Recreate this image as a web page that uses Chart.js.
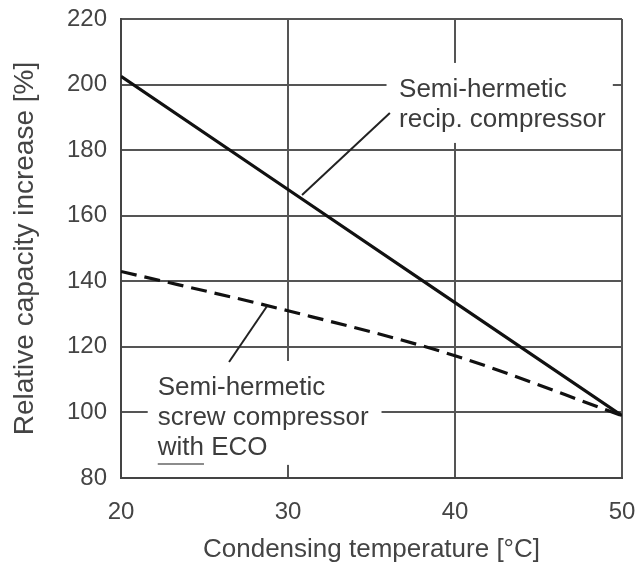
<!DOCTYPE html>
<html>
<head>
<meta charset="utf-8">
<script src="https://cdn.jsdelivr.net/npm/chart.js@4.4.1/dist/chart.umd.min.js"></script>
<style>
  html, body { margin: 0; padding: 0; background: #fff; }
  #wrap { width: 637px; height: 563px; }
</style>
</head>
<body>
<div id="wrap"><canvas id="capChart"></canvas></div>
<script>
// condensing temperature [°C]
var temps = [20, 30, 40, 50];
// relative capacity increase [%]
var recipValues = [202.5, 168, 133.5, 99];
var screwValues = [143, 131, 117.3, 99];
var xTicks = [20, 30, 40, 50];
var yTicks = [80, 100, 120, 140, 160, 180, 200, 220];

var noteRecip = ["Semi-hermetic", "recip. compressor"];
var noteScrew = ["Semi-hermetic", "screw compressor", "with ECO"];

function toPoints(vals) {
  return temps.map(function (t, i) {
    return { x: t, y: vals[i] };
  });
}

// label boxes, text and leader lines, placed in data units
var notesPlugin = {
  id: "notes",
  beforeDatasetsDraw: function (chart) {
    var ctx = chart.ctx;
    var x = chart.scales.x;
    var y = chart.scales.y;
    ctx.save();
    ctx.fillStyle = "#fff";
    [
      [35.9, 49.45, 206.6, 182.2],
      [21.6, 35.6, 115.7, 84.0],
    ].forEach(function (b) {
      var x0 = x.getPixelForValue(b[0]);
      var x1 = x.getPixelForValue(b[1]);
      var y0 = y.getPixelForValue(b[2]);
      var y1 = y.getPixelForValue(b[3]);
      ctx.fillRect(x0, y0, x1 - x0, y1 - y0);
    });
    ctx.restore();
  },
  afterDatasetsDraw: function (chart) {
    var ctx = chart.ctx;
    var x = chart.scales.x;
    var y = chart.scales.y;
    ctx.save();

    // leader lines
    ctx.strokeStyle = "#222";
    ctx.lineWidth = 2;
    [
      [36.1, 191.3, 30.84, 166.3],
      [26.47, 115.4, 28.74, 132.4],
    ].forEach(function (l) {
      ctx.beginPath();
      ctx.moveTo(x.getPixelForValue(l[0]), y.getPixelForValue(l[1]));
      ctx.lineTo(x.getPixelForValue(l[2]), y.getPixelForValue(l[3]));
      ctx.stroke();
    });

    // text
    ctx.fillStyle = "#3c3c3c";
    ctx.font = "26px 'Liberation Sans', Arial, sans-serif";
    ctx.textAlign = "left";
    ctx.textBaseline = "alphabetic";
    var lineGap = 30;

    var ax = x.getPixelForValue(36.65);
    var ay = y.getPixelForValue(196.2);
    noteRecip.forEach(function (s, i) {
      ctx.fillText(s, ax, ay + i * lineGap);
    });

    var bx = x.getPixelForValue(22.2);
    var by = y.getPixelForValue(105.3);
    noteScrew.forEach(function (s, i) {
      ctx.fillText(s, bx, by + i * lineGap);
    });

    // underline under "with"
    var w = ctx.measureText("with").width;
    var uy = by + 2 * lineGap + 9;
    ctx.strokeStyle = "#666";
    ctx.lineWidth = 1.5;
    ctx.beginPath();
    ctx.moveTo(bx, uy);
    ctx.lineTo(bx + w, uy);
    ctx.stroke();

    ctx.restore();
  },
};

var tickFont = { family: "'Liberation Sans', Arial, sans-serif", size: 24 };

new Chart(document.getElementById("capChart"), {
  type: "line",
  data: {
    datasets: [
      {
        label: "Semi-hermetic recip. compressor",
        data: toPoints(recipValues),
        borderColor: "#111",
        borderWidth: 3.2,
        pointRadius: 0,
        fill: false,
      },
      {
        label: "Semi-hermetic screw compressor with ECO",
        data: toPoints(screwValues),
        borderColor: "#111",
        borderWidth: 3.2,
        borderDash: [16, 8],
        pointRadius: 0,
        cubicInterpolationMode: "monotone",
        fill: false,
      },
    ],
  },
  options: {
    responsive: true,
    maintainAspectRatio: false,
    animation: false,
    layout: {
      padding: { top: 19, right: 15, left: 0, bottom: 0 },
    },
    plugins: {
      legend: { display: false },
      tooltip: { enabled: false },
    },
    scales: {
      x: {
        type: "linear",
        min: 20,
        max: 50,
        afterBuildTicks: function (scale) {
          scale.ticks = xTicks.map(function (v) {
            return { value: v };
          });
        },
        afterFit: function (scale) {
          scale.height = 85;
          scale.paddingLeft = 0;
          scale.paddingRight = 0;
        },
        ticks: {
          font: tickFont,
          color: "#444",
          padding: 20,
          maxRotation: 0,
        },
        grid: {
          color: "#555",
          lineWidth: 2,
          drawTicks: false,
        },
        border: { color: "#444", width: 2 },
        title: {
          display: true,
          text: "Condensing temperature [°C]",
          font: { family: "'Liberation Sans', Arial, sans-serif", size: 26, lineHeight: 1 },
          color: "#444",
          padding: 0,
        },
      },
      y: {
        min: 80,
        max: 220,
        afterBuildTicks: function (scale) {
          scale.ticks = yTicks.map(function (v) {
            return { value: v };
          });
        },
        afterFit: function (scale) {
          scale.width = 121;
          scale.paddingTop = 0;
          scale.paddingBottom = 0;
        },
        ticks: {
          font: tickFont,
          color: "#444",
          padding: 14,
        },
        grid: {
          color: "#555",
          lineWidth: 2,
          drawTicks: false,
        },
        border: { color: "#444", width: 2 },
        title: {
          display: true,
          text: "Relative capacity increase [%]",
          font: { family: "'Liberation Sans', Arial, sans-serif", size: 28, lineHeight: 1 },
          color: "#444",
          padding: { top: 11, bottom: 0 },
        },
      },
    },
  },
  plugins: [notesPlugin],
});
</script>
</body>
</html>
